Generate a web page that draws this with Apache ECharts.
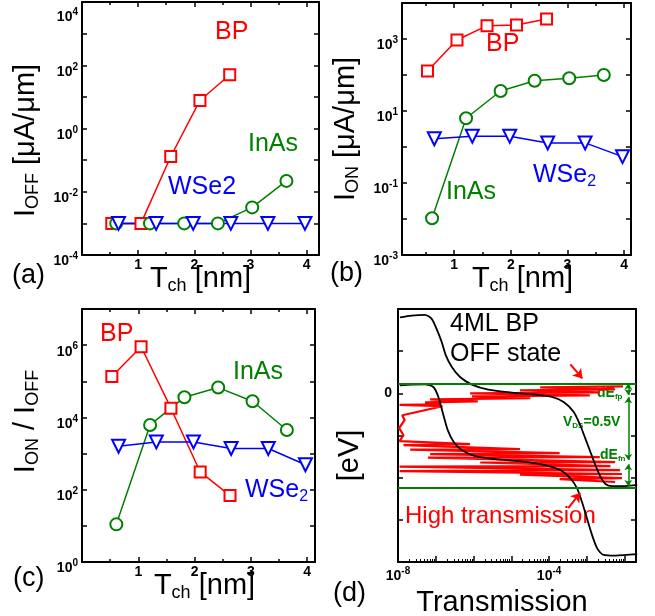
<!DOCTYPE html>
<html>
<head>
<meta charset="utf-8">
<script src="https://cdn.jsdelivr.net/npm/echarts@6/dist/echarts.min.js"></script>
<style>
  html, body { margin: 0; padding: 0; background: #fff; }
  #chart { width: 655px; height: 616px; }
</style>
</head>
<body>
<div id="chart"></div>
<script>
// channel thickness [nm] of each material
const bpT = [0.53, 1.05, 1.58, 2.1, 2.63];
const inasT = [0.61, 1.21, 1.82, 2.42, 3.03, 3.64];
const wse2T = [0.65, 1.32, 1.98, 2.65, 3.31, 3.97];

// (a) I_OFF [uA/um]
const bpOff = [1e-3, 1e-3, 0.13, 7.7, 50];
const inasOff = [1e-3, 1e-3, 1e-3, 1e-3, 3.2e-3, 0.022];
const wse2Off = [1e-3, 1e-3, 1e-3, 1e-3, 1e-3, 1e-3];

// (b) I_ON [uA/um]
const bpOn = [130, 940, 2350, 2450, 3600];
const inasOn = [0.0105, 6.3, 36, 69, 81, 100];
const wse2On = [1.7, 2.0, 2.0, 1.3, 1.3, 0.54];

// (c) I_ON / I_OFF
const bpRatio = [1.35e5, 9e5, 1.8e4, 310, 69];
const inasRatio = [11, 6200, 3.6e4, 6.7e4, 2.8e4, 4500];
const wse2Ratio = [1600, 2100, 2100, 1380, 1380, 490];

// (d) transmission spectrum of 4ML BP, OFF state
const transT = [9.1e-3, 5.8e-5, 5.6e-3, 1.7e-5, 2.2e-3, 8.1e-7, 1.2e-3, 9.1e-7, 3.2e-5, 7.1e-8,
  1.3e-6, 5.2e-8, 1.3e-7, 1.1e-8, 1.5e-7, 1.3e-8, 1.5e-8, 1.07e-8, 1.4e-8, 1.1e-8,
  8.1e-7, 1.4e-8, 1.7e-5, 2.1e-8, 1.9e-4, 7.1e-8, 2.2e-3, 6.2e-8, 5.6e-3, 1.5e-6,
  4.2e-3, 1.1e-8, 7.6e-3, 1.1e-8, 8.5e-3, 1.7e-5, 8.5e-3, 1.9e-4, 5.6e-3];
const transE = [0.05, 0.043, 0.028, 0.021, 0.007, 0, -0.014, -0.021, -0.035, -0.043,
  -0.057, -0.064, -0.078, -0.082, -0.092, -0.156, -0.191, -0.248, -0.298, -0.34,
  -0.362, -0.369, -0.397, -0.4, -0.426, -0.433, -0.454, -0.457, -0.489, -0.492,
  -0.518, -0.521, -0.546, -0.553, -0.574, -0.578, -0.603, -0.61, -0.631];

// (d) band edges along the channel (position normalised 0..1) [eV]
const upperPos = [0.008, 0.057, 0.112, 0.14, 0.16, 0.182, 0.199, 0.224, 0.258, 0.307, 0.376, 0.474, 0.571,
  0.64, 0.689, 0.731, 0.758, 0.779, 0.8, 0.821, 0.842, 0.863, 0.89, 0.946, 0.995];
const upperE = [0.54, 0.553, 0.558, 0.53, 0.46, 0.364, 0.27, 0.187, 0.116, 0.062, 0.026, 0.005, -0.009,
  -0.026, -0.062, -0.133, -0.227, -0.32, -0.416, -0.51, -0.593, -0.645, -0.66, -0.66, -0.652];
const lowerPos = [0.008, 0.057, 0.112, 0.147, 0.168, 0.189, 0.207, 0.231, 0.265, 0.321, 0.404, 0.529,
  0.612, 0.675, 0.717, 0.745, 0.765, 0.786, 0.807, 0.828, 0.855, 0.904, 0.995];
const lowerE = [0.057, 0.062, 0.064, 0.045, -0.026, -0.156, -0.262, -0.345, -0.404, -0.447, -0.468, -0.487,
  -0.51, -0.546, -0.605, -0.676, -0.771, -0.889, -1.007, -1.101, -1.149, -1.154, -1.144];

// quasi Fermi levels (green lines)
const fermiP = 0.07;
const fermiN = -0.67;

const FONT = "'Liberation Sans', Arial, sans-serif";
const RED = '#ff0000', GREEN = '#008000', BLUE = '#0000ff';

const chart = echarts.init(document.getElementById('chart'));

const zip = (xs, ys) => xs.map((x, i) => [x, ys[i]]);

const nameRich = {
  m: { fontSize: 29, fontFamily: FONT, color: '#000', lineHeight: 31, verticalAlign: 'top' },
  s: { fontSize: 18, fontFamily: FONT, color: '#000', lineHeight: 18, verticalAlign: 'bottom', padding: [17, 0, 0, 0] }
};
const tickRich = {
  b: { fontSize: 14, fontWeight: 'bold', fontFamily: FONT, color: '#000', lineHeight: 17, verticalAlign: 'bottom' },
  e: { fontSize: 10, fontWeight: 'bold', fontFamily: FONT, color: '#000', lineHeight: 10, verticalAlign: 'top' },
  sp: { fontSize: 10, lineHeight: 18 }
};
const axisLine = { onZero: false, lineStyle: { color: '#000', width: 2 } };
const tick = { inside: true, length: 5, lineStyle: { color: '#000', width: 1.5 } };

function powLabel(shown, lowered) {
  return function (v) {
    const e = Math.log10(v), r = Math.round(e);
    if (Math.abs(e - r) > 1e-3 || shown.indexOf(r) < 0) return '';
    const s = '{b|10}{e|' + r + '}';
    return lowered && lowered.indexOf(r) >= 0 ? '{sp| }\n' + s : s;
  };
}
function intLabel(v) {
  if (Math.abs(v - Math.round(v)) > 1e-6 || v < 0.5) return '';
  return String(Math.round(v));
}

// T_ch axis (bottom with labels + mirrored top)
function tchAxes(gi, min, max, pad) {
  const minor = { show: true, splitNumber: 2, length: 3, lineStyle: { color: '#000', width: 1.5 } };
  return [{
    type: 'value', gridIndex: gi, min: min, max: max, position: 'bottom',
    axisLine: axisLine, axisTick: tick, minorTick: minor, splitLine: { show: false },
    axisLabel: { formatter: intLabel, fontSize: 14, fontWeight: 'bold', color: '#000', fontFamily: FONT, margin: 3 },
    name: '{m|T}{s|ch}{m| [nm]}', nameLocation: 'middle', nameGap: 9, nameMoveOverlap: false,
    nameTextStyle: { rich: nameRich, padding: pad }
  }, {
    type: 'value', gridIndex: gi, min: min, max: max, position: 'top',
    axisLine: axisLine, axisTick: tick, minorTick: minor, splitLine: { show: false },
    axisLabel: { show: false }
  }];
}

// log current axis (left with labels + mirrored right)
function logAxes(gi, min, max, shown, lowered, name, pad) {
  return [{
    type: 'log', logBase: 10, gridIndex: gi, min: min, max: max, position: 'left',
    axisLine: axisLine, axisTick: tick, splitLine: { show: false },
    axisLabel: { formatter: powLabel(shown, lowered), rich: tickRich, margin: 4, padding: [10, 0, 0, 0] },
    name: name, nameLocation: 'middle', nameRotate: 90, nameGap: 40,
    nameTextStyle: { rich: nameRich, padding: pad }
  }, {
    type: 'log', logBase: 10, gridIndex: gi, min: min, max: max, position: 'right',
    axisLine: axisLine, axisTick: tick, splitLine: { show: false },
    axisLabel: { show: false }
  }];
}

function lineSeries(xi, yi, xs, ys, color, symbol, size, rotate) {
  return {
    type: 'line', xAxisIndex: xi, yAxisIndex: yi, data: zip(xs, ys),
    symbol: symbol, symbolSize: size, symbolRotate: rotate || 0,
    lineStyle: { color: color, width: 1.5 },
    itemStyle: { color: color, borderColor: color, borderWidth: 1.5 }
  };
}

function text(left, top, str, size, color) {
  return {
    type: 'text', left: left, top: top, silent: true,
    style: { text: str, fontSize: size, fontFamily: FONT, fill: color }
  };
}
function subText(left, top, main, sub, size, color) {
  return {
    type: 'text', left: left, top: top, silent: true,
    style: {
      text: '{m|' + main + '}{s|' + sub + '}',
      rich: {
        m: { fontSize: size, fontFamily: FONT, fill: color, lineHeight: size + 2, verticalAlign: 'top' },
        s: { fontSize: size * 0.64, fontFamily: FONT, fill: color, lineHeight: size * 0.64, verticalAlign: 'bottom', padding: [size * 0.55, 0, 0, 0] }
      }
    }
  };
}
function greenSub(left, top, main, sub, tail) {
  return {
    type: 'text', left: left, top: top, silent: true,
    style: {
      text: '{m|' + main + '}{s|' + sub + '}' + (tail ? '{m|' + tail + '}' : ''),
      rich: {
        m: { fontSize: 14, fontWeight: 'bold', fontFamily: FONT, fill: GREEN, lineHeight: 15, verticalAlign: 'top' },
        s: { fontSize: 8, fontWeight: 'bold', fontFamily: FONT, fill: GREEN, lineHeight: 8, verticalAlign: 'bottom', padding: [10, 0, 0, 0] }
      }
    }
  };
}

const xAxes = [].concat(
  tchAxes(0, 0, 4.22, [0, 0, 0, 0]),
  tchAxes(1, 0.08, 4.12, [0, 0, 0, 12]),
  tchAxes(2, 0, 4.14, [0, 0, 0, 12]),
  [{
    type: 'log', logBase: 10, gridIndex: 3, min: 1e-8, max: 0.02, position: 'bottom',
    axisLine: axisLine, axisTick: Object.assign({}, tick, { length: 6 }), splitLine: { show: false },
    minorTick: { show: true, splitNumber: 9, length: 3, lineStyle: { color: '#000', width: 1 } },
    axisLabel: { formatter: powLabel([-8, -4]), rich: tickRich, margin: 4 },
    name: 'Transmission', nameLocation: 'middle', nameGap: 26,
    nameTextStyle: { fontSize: 29, fontFamily: FONT, color: '#000', padding: [0, 30, 0, 0] }
  }, {
    type: 'log', logBase: 10, gridIndex: 3, min: 1e-8, max: 0.02, position: 'top',
    axisLine: axisLine, axisTick: { show: false }, splitLine: { show: false }, axisLabel: { show: false }
  }, {
    // position along the channel for the band edges
    type: 'value', gridIndex: 3, min: 0, max: 0.99, show: false
  }]
);

const yAxes = [].concat(
  logAxes(0, 1e-4, 1e4, [-4, -2, 0, 2, 4], [4], '{m|I}{s|OFF}{m| [μA/μm]}', [0, 24, 0, 0]),
  logAxes(1, 1e-3, 1e4, [-3, -1, 1, 3], null, '{m|I}{s|ON}{m| [μA/μm]}', [0, 0, 0, 0]),
  logAxes(2, 1, 1e7, [0, 2, 4, 6], null, '{m|I}{s|ON}{m| / I}{s|OFF}', [0, 0, 0, 28]),
  [{
    type: 'value', gridIndex: 3, min: -1.2, max: 0.6, position: 'left',
    axisLine: axisLine, axisTick: tick, splitLine: { show: false },
    axisLabel: {
      formatter: v => (Math.abs(v - Math.round(v)) < 1e-6 ? String(Math.round(v)) : ''),
      fontSize: 14, fontWeight: 'bold', color: '#000', fontFamily: FONT, margin: 6
    },
    name: '[eV]', nameLocation: 'middle', nameRotate: 90, nameGap: 34,
    nameTextStyle: { fontSize: 29, fontFamily: FONT, color: '#000', padding: [0, 40, 0, 0] }
  }, {
    type: 'value', gridIndex: 3, min: -1.2, max: 0.6, position: 'right',
    axisLine: axisLine, axisTick: tick, splitLine: { show: false }, axisLabel: { show: false }
  }]
);

const series = [
  // (a)
  lineSeries(0, 0, bpT, bpOff, RED, 'emptyRect', 11),
  lineSeries(0, 0, inasT, inasOff, GREEN, 'emptyCircle', 12),
  lineSeries(0, 0, wse2T, wse2Off, BLUE, 'emptyTriangle', 13, 180),
  // (b)
  lineSeries(2, 2, bpT, bpOn, RED, 'emptyRect', 11),
  lineSeries(2, 2, inasT, inasOn, GREEN, 'emptyCircle', 12),
  lineSeries(2, 2, wse2T, wse2On, BLUE, 'emptyTriangle', 13, 180),
  // (c)
  lineSeries(4, 4, bpT, bpRatio, RED, 'emptyRect', 11),
  lineSeries(4, 4, inasT, inasRatio, GREEN, 'emptyCircle', 12),
  lineSeries(4, 4, wse2T, wse2Ratio, BLUE, 'emptyTriangle', 13, 180),
  // (d) transmission + Fermi levels
  {
    type: 'line', xAxisIndex: 6, yAxisIndex: 6, data: zip(transT, transE),
    showSymbol: false, lineStyle: { color: RED, width: 2.2 },
    markLine: {
      silent: true, symbol: 'none', label: { show: false },
      lineStyle: { color: GREEN, width: 2, type: 'solid' },
      data: [{ yAxis: fermiP }, { yAxis: fermiN }]
    }
  },
  // (d) band edges
  {
    type: 'line', xAxisIndex: 8, yAxisIndex: 6, data: zip(upperPos, upperE),
    showSymbol: false, smooth: 0.25, lineStyle: { color: '#000', width: 1.8 },
    markLine: {
      silent: true, symbol: ['arrow', 'arrow'], symbolSize: 6, label: { show: false },
      lineStyle: { color: GREEN, width: 1.5, type: 'solid' },
      data: [
        [{ coord: [0.958, fermiP] }, { coord: [0.958, -0.012] }],
        [{ coord: [0.958, -0.028] }, { coord: [0.958, -0.475] }],
        [{ coord: [0.958, -0.504] }, { coord: [0.958, fermiN + 0.01] }]
      ]
    }
  },
  {
    type: 'line', xAxisIndex: 8, yAxisIndex: 6, data: zip(lowerPos, lowerE),
    showSymbol: false, smooth: 0.25, lineStyle: { color: '#000', width: 1.8 },
    markLine: {
      silent: true, symbol: ['none', 'arrow'], symbolSize: 9, label: { show: false },
      lineStyle: { color: RED, width: 2, type: 'solid' },
      data: [
        [{ coord: [0.717, 0.206] }, { coord: [0.767, 0.106] }],
        [{ coord: [0.708, -0.816] }, { coord: [0.758, -0.709] }]
      ]
    }
  }
];

const graphic = [
  text(12, 262, '(a)', 27, '#000'),
  text(330, 260, '(b)', 27, '#000'),
  text(13, 565, '(c)', 27, '#000'),
  text(333, 580, '(d)', 27, '#000'),
  // (a)
  text(215, 20, 'BP', 25, RED),
  text(248, 132, 'InAs', 25, GREEN),
  text(168, 175, 'WSe2', 25, BLUE),
  // (b)
  text(486, 32, 'BP', 25, RED),
  text(446, 180, 'InAs', 25, GREEN),
  subText(533, 160, 'WSe', '2', 25, BLUE),
  // (c)
  text(100, 322, 'BP', 25, RED),
  text(233, 360, 'InAs', 25, GREEN),
  subText(245, 475, 'WSe', '2', 25, BLUE),
  // (d)
  text(450, 312, '4ML BP', 25, '#000'),
  text(450, 342, 'OFF state', 25, '#000'),
  text(405, 504, 'High transmission', 24, RED),
  greenSub(597, 383, 'dE', 'fp'),
  greenSub(563, 412, 'V', 'DS', '=0.5V'),
  greenSub(600, 445, 'dE', 'fn')
];

chart.setOption({
  animation: false,
  backgroundColor: '#fff',
  textStyle: { fontFamily: FONT },
  grid: [
    { left: 82, top: 2, width: 237, height: 253, outerBoundsMode: 'none' },
    { left: 402, top: 3, width: 229, height: 252, outerBoundsMode: 'none' },
    { left: 82, top: 309, width: 233, height: 253, outerBoundsMode: 'none' },
    { left: 398, top: 309, width: 238, height: 253, outerBoundsMode: 'none' }
  ],
  xAxis: xAxes,
  yAxis: yAxes,
  series: series,
  graphic: graphic
});
</script>
</body>
</html>
